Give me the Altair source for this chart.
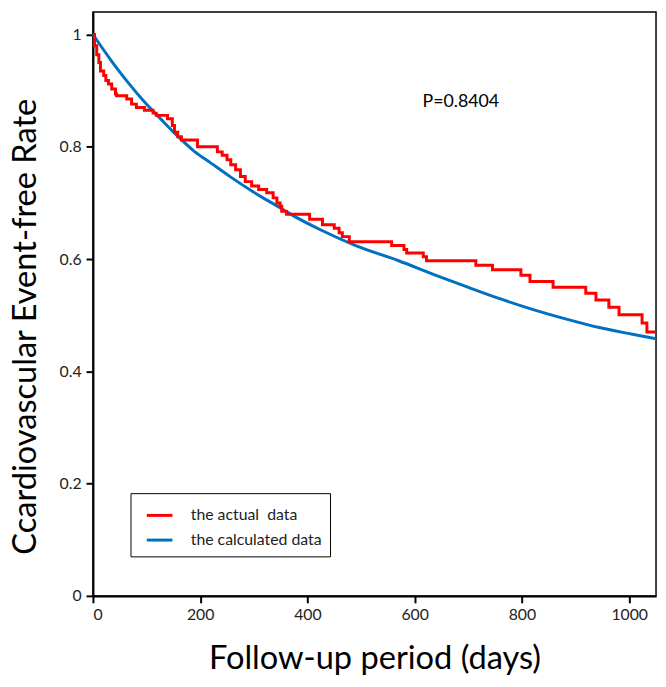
import altair as alt
import pandas as pd

# Red step curve (actual data): day where each step starts, event-free rate
actual_days = [0, 3, 7, 11, 14, 20, 24, 29, 35, 42, 44, 63, 72, 81, 96, 112, 118, 139,
               148, 152, 158, 165, 195, 232, 241, 250, 257, 266, 275, 284, 296, 309,
               324, 336, 343, 349, 352, 361, 404, 428, 450, 459, 465, 478, 557, 580,
               585, 616, 622, 714, 745, 798, 815, 858, 919, 938, 962, 981, 1024, 1033, 1050]
actual_rate = [1.0, 0.98, 0.964, 0.95, 0.935, 0.927, 0.918, 0.912, 0.903, 0.894, 0.891,
               0.885, 0.876, 0.870, 0.865, 0.860, 0.856, 0.850, 0.838, 0.826, 0.818,
               0.812, 0.800, 0.791, 0.785, 0.777, 0.768, 0.759, 0.747, 0.738, 0.730,
               0.724, 0.718, 0.709, 0.700, 0.694, 0.685, 0.680, 0.671, 0.661, 0.655,
               0.647, 0.640, 0.631, 0.624, 0.617, 0.611, 0.604, 0.597, 0.589, 0.581,
               0.571, 0.560, 0.550, 0.539, 0.527, 0.514, 0.501, 0.486, 0.470, 0.470]

# Blue smooth curve (calculated data)
calc_days = [0, 36, 66, 97, 128, 158, 189, 220, 257, 300, 355, 367, 429, 490, 570,
             637, 699, 760, 821, 883, 944, 1006, 1050]
calc_rate = [1.0, 0.951, 0.914, 0.879, 0.848, 0.819, 0.792, 0.771, 0.746, 0.719, 0.688,
             0.681, 0.650, 0.624, 0.597, 0.572, 0.550, 0.529, 0.510, 0.493, 0.478,
             0.466, 0.458]

series_names = ["the actual\u00a0 data", "the calculated data"]
series_colors = ["#FF0000", "#0070C0"]
p_label = "P=0.8404"

x_ticks = [0, 200, 400, 600, 800, 1000]
y_ticks = [0, 0.2, 0.4, 0.6, 0.8, 1]

df_actual = pd.DataFrame({"day": actual_days, "rate": actual_rate, "series": series_names[0]})
df_calc = pd.DataFrame({"day": calc_days, "rate": calc_rate, "series": series_names[1]})

FONT = "Lato"

x_enc = alt.X("day:Q", scale=alt.Scale(domain=[0, 1050], nice=False),
              axis=alt.Axis(values=x_ticks, format="d", title="Follow-up period (days)",
                            titleFontSize=33, titleFont=FONT, titleFontWeight="normal",
                            titleX=285, titleY=64, titleBaseline="middle",
                            labelFontSize=16, labelFont=FONT, labelPadding=4))
y_enc = alt.Y("rate:Q", scale=alt.Scale(domain=[0, 1.04], nice=False),
              axis=alt.Axis(values=y_ticks, format="~g", title="Ccardiovascular Event-free Rate",
                            titleFontSize=33, titleFont=FONT, titleFontWeight="normal",
                            titleX=-68, titleY=318, titleAngle=-90, titleBaseline="middle",
                            titleAlign="center",
                            labelFontSize=16, labelFont=FONT, labelPadding=5))
color_enc = alt.Color("series:N",
                      scale=alt.Scale(domain=series_names, range=series_colors),
                      legend=alt.Legend(title=None, orient="none", legendX=38, legendY=487,
                                        strokeColor="black", padding=8,
                                        symbolType="stroke", symbolSize=676,
                                        symbolOffset=7, symbolStrokeWidth=3,
                                        labelFontSize=16, labelFont=FONT, labelColor="#222222",
                                        labelOffset=17, rowPadding=2,
                                        fillColor="white"))

actual = alt.Chart(df_actual).mark_line(interpolate="step-after", strokeWidth=3).encode(
    x=x_enc, y=y_enc, color=color_enc)
calc = alt.Chart(df_calc).mark_line(interpolate="monotone", strokeWidth=3).encode(
    x=x_enc, y=y_enc, color=color_enc)

ptext = alt.Chart(pd.DataFrame({"label": [p_label]})).mark_text(
    fontSize=18, font=FONT, color="black", align="center", baseline="middle").encode(
    x=alt.datum(686), y=alt.datum(0.879), text="label:N")

chart = alt.layer(calc, actual, ptext).properties(
    width=570, height=591,
    autosize=alt.AutoSizeParams(type="none"),
    padding={"left": 86, "top": 0, "right": 2, "bottom": 80},
).configure_view(stroke="black", strokeWidth=1.5).configure_axis(
    grid=False, domainColor="black", domainWidth=2, tickColor="black", tickWidth=2,
    tickSize=7, labelColor="#222222", titleColor="black"
)

chart.save("out.html", embed_options={"renderer": "svg", "actions": False})
